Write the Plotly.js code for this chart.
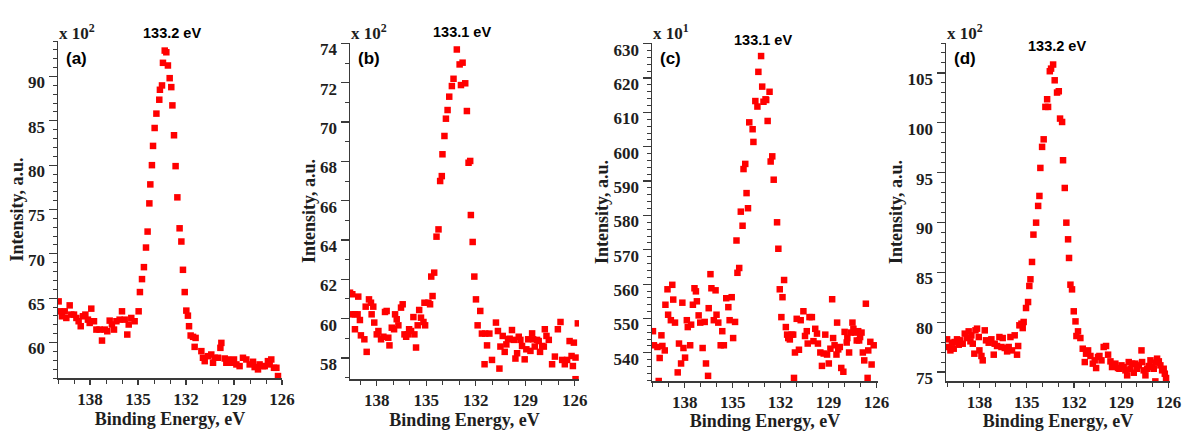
<!DOCTYPE html>
<html>
<head>
<meta charset="utf-8">
<script src="https://cdn.plot.ly/plotly-3.0.1.min.js"></script>
<style>html,body{margin:0;padding:0;background:#fff;}#chart{width:1182px;height:431px;}</style>
</head>
<body>
<div id="chart"></div>
<script>
// ---- Panel (a): peak 133.2 eV, intensity x 10^2 ----
const xA = [139.96,139.9,139.75,139.58,139.48,139.27,139.17,139.0,138.85,138.71,138.58,138.44,138.29,138.13,138.02,137.92,137.75,137.6,137.4,137.25,137.08,136.92,136.77,136.63,136.5,136.35,136.15,136.0,135.83,135.67,135.58,135.42,135.21,134.96,134.88,134.75,134.63,134.5,134.4,134.29,134.23,134.13,134.06,133.96,133.85,133.67,133.63,133.5,133.44,133.33,133.23,133.13,133.02,132.92,132.85,132.75,132.65,132.54,132.4,132.29,132.19,132.08,131.98,131.88,131.81,131.71,131.56,131.46,131.4,131.04,130.94,130.83,130.63,130.42,130.31,130.21,130.0,129.85,129.79,129.58,129.48,129.38,129.17,129.0,128.85,128.65,128.44,128.23,128.02,127.81,127.71,127.5,127.4,127.19,127.08,126.88,126.77,126.67,126.5,126.35,126.25];
const yA = [64.64,63.52,62.96,63.52,62.77,64.19,63.15,63.15,62.77,62.4,61.84,62.96,63.15,62.58,62.21,63.82,62.4,61.46,61.46,60.22,61.46,61.27,62.47,62.03,61.46,62.4,62.58,63.52,62.58,60.9,62.03,62.77,62.4,63.52,65.69,67.15,68.5,70.71,72.51,75.69,77.83,80.0,82.17,84.19,85.81,87.38,88.5,88.99,91.54,92.92,92.73,91.24,89.81,88.8,86.74,83.37,79.89,76.37,72.88,71.39,68.2,65.69,63.6,63.03,61.84,60.79,60.64,59.51,60.52,59.03,58.28,57.9,58.46,58.65,57.72,58.28,58.28,59.4,59.96,58.2,57.72,58.09,57.72,58.09,57.53,57.34,58.28,58.09,57.53,57.83,57.23,56.97,57.53,57.34,57.34,57.9,57.53,58.09,57.15,57.15,56.22];

// ---- Panel (b): peak 133.1 eV, intensity x 10^2 ----
const xB = [139.62,139.48,139.12,139.52,139.32,139.16,139.02,139.32,138.96,138.75,138.61,138.67,138.47,138.35,138.31,138.21,138.15,138.0,137.9,137.74,137.6,137.5,137.4,137.3,137.23,137.09,136.95,136.89,136.79,136.69,136.53,136.43,136.32,136.22,136.12,136.04,135.92,135.78,135.72,135.62,135.52,135.43,135.32,135.17,135.07,135.11,134.87,134.77,134.62,134.7,134.52,134.38,134.26,134.16,134.06,134.02,133.9,133.81,133.71,133.61,133.45,133.35,133.15,132.98,132.8,132.9,132.64,132.54,132.44,132.34,132.3,132.19,132.09,131.99,131.73,131.89,131.63,131.43,131.18,131.32,131.47,131.02,130.78,130.66,130.51,130.57,130.37,130.25,130.15,130.05,129.95,129.81,129.7,129.6,129.5,129.4,129.3,129.2,129.04,128.94,128.83,128.69,128.59,128.53,128.43,128.29,128.19,128.11,127.98,127.88,127.82,127.72,127.58,127.38,127.21,127.03,126.87,126.77,126.61,126.47,126.32,126.2,126.06,125.96,125.82,125.96,126.12];
const yB = [61.32,61.24,61.12,60.22,60.22,60.22,59.93,59.46,59.15,58.95,58.31,60.61,60.98,60.81,60.22,60.61,59.8,59.2,59.37,58.95,59.08,60.34,60.39,59.03,58.64,59.54,59.46,60.22,59.97,59.66,60.56,60.73,59.2,59.08,59.2,59.46,59.37,60.08,59.2,58.53,59.66,60.44,60.05,59.83,59.66,60.81,60.81,60.73,61.15,62.14,62.34,64.17,64.54,67.0,67.25,68.36,69.29,70.17,70.61,71.29,71.83,72.2,73.69,72.93,73.02,71.88,71.97,70.56,67.93,68.02,65.27,63.9,62.14,60.98,60.39,59.66,59.24,59.24,59.24,58.64,57.68,57.9,59.8,59.37,58.58,57.46,59.12,58.31,58.69,58.95,58.98,59.42,58.92,57.97,58.24,59.08,58.92,58.61,57.93,58.44,58.95,58.36,59.25,58.95,58.58,58.92,58.86,58.31,58.61,58.58,59.46,59.12,58.92,57.68,58.07,59.46,59.83,57.9,57.68,57.9,58.86,58.1,58.78,58.02,59.76,56.92,57.59];

// ---- Panel (c): peak 133.1 eV, intensity x 10^1 ----
const xC = [139.99,139.93,139.71,139.63,139.57,139.46,139.4,139.25,139.21,139.08,139.04,138.87,138.78,138.72,138.61,138.44,138.36,138.23,138.15,138.08,137.98,137.87,137.81,137.66,137.6,137.49,137.39,137.3,137.24,137.13,137.03,136.88,136.75,136.67,136.54,136.5,136.39,136.33,136.18,136.07,136.01,135.9,135.75,135.65,135.55,135.4,135.27,135.19,135.06,134.97,134.85,134.76,134.7,134.59,134.49,134.38,134.32,134.21,134.13,134.04,133.7,133.75,133.96,133.58,133.45,133.39,133.22,133.15,133.07,132.94,132.9,132.81,132.69,132.62,132.52,132.43,132.22,132.14,132.05,131.88,131.78,131.95,131.67,131.59,131.52,131.42,131.31,131.21,131.16,131.1,130.99,130.85,130.74,130.57,130.47,130.36,130.3,130.19,130.04,129.94,129.83,129.72,129.66,129.51,129.41,129.3,129.2,129.09,128.98,128.88,128.77,128.71,128.62,128.46,128.5,128.39,128.29,128.2,128.07,127.99,127.86,127.82,127.71,127.61,127.5,127.44,127.33,127.23,127.14,127.08,127.02,126.93,126.85,126.76,126.66,126.55,126.51,126.38,126.3,126.17];
const yC = [546.3,542.2,541.7,531.8,538.5,545.1,542.0,540.7,554.0,558.5,551.1,549.5,559.8,555.5,548.8,534.3,542.7,536.9,554.6,541.4,538.6,549.5,547.5,542.2,548.2,554.0,558.8,557.9,555.0,550.9,548.8,541.4,549.0,536.9,533.3,553.0,562.9,558.8,549.5,558.2,551.1,548.8,542.2,546.3,542.2,555.9,553.3,549.5,556.2,544.3,549.0,572.7,563.3,564.7,581.1,577.0,593.5,595.0,586.5,582.1,601.4,605.1,607.1,613.3,611.7,621.8,626.4,617.5,613.1,613.8,613.6,607.5,616.0,595.7,597.2,590.4,578.0,570.3,558.5,556.2,561.2,550.4,547.5,545.3,544.3,543.9,545.3,545.3,532.7,540.1,549.9,540.9,549.5,552.1,544.9,546.3,542.7,550.4,550.4,543.4,547.0,545.6,542.7,540.1,536.2,539.8,545.3,539.5,536.9,541.2,555.6,544.3,542.2,548.8,539.5,541.0,541.7,535.6,534.5,546.1,543.0,544.3,540.1,545.9,548.8,547.0,545.9,543.6,546.3,543.6,544.6,545.9,540.1,537.8,554.3,532.7,540.7,543.2,536.6,542.2];

// ---- Panel (d): peak 133.2 eV, intensity x 10^2 ----
const xD = [140.05,139.95,139.84,139.74,139.63,139.57,139.42,139.31,139.21,139.06,138.93,138.78,138.68,138.57,138.51,138.42,138.32,138.25,138.15,138.04,138.0,137.87,137.79,137.66,137.58,137.41,137.24,137.09,137.03,136.88,136.73,136.6,136.52,136.39,136.24,136.14,136.03,135.93,135.76,135.61,135.54,135.46,135.33,135.25,135.19,135.04,134.91,134.83,134.76,134.66,134.57,134.4,134.27,134.19,134.13,134.02,133.92,133.81,133.7,133.64,133.53,133.45,133.32,133.22,133.07,132.96,132.88,132.75,132.69,132.58,132.48,132.37,132.31,132.22,132.12,132.01,131.9,131.84,131.74,131.59,131.44,131.31,131.23,131.1,130.95,130.8,130.68,130.59,130.47,130.38,130.25,130.11,129.96,129.83,129.68,129.58,129.47,129.37,129.2,129.11,128.98,128.84,128.73,128.62,128.52,128.41,128.31,128.2,128.1,127.99,127.88,127.71,127.67,127.57,127.46,127.35,127.25,127.14,127.04,126.93,126.83,126.72,126.61,126.51,126.4,126.3,126.23,126.15,126.83];
const yD = [78.28,77.51,77.17,77.94,77.34,78.01,78.28,77.74,78.18,77.84,78.85,78.41,79.08,78.08,78.68,77.84,76.84,79.18,79.35,78.51,77.17,76.61,76.17,79.18,78.18,77.94,78.28,76.74,77.84,77.61,78.51,77.51,78.41,77.41,77.07,77.51,78.51,77.17,78.68,76.74,77.61,79.68,79.85,79.41,80.02,81.42,82.02,83.63,84.3,86.04,88.78,89.98,91.66,92.66,95.47,97.58,98.34,101.59,102.36,101.59,105.17,105.43,105.84,104.26,103.03,103.16,100.42,100.08,96.24,93.46,89.98,88.31,86.44,83.76,83.29,81.09,80.08,78.61,79.08,78.41,77.34,76.0,76.84,77.17,76.61,75.84,76.17,75.4,76.51,76.61,76.17,77.51,77.61,76.74,76.07,75.5,75.74,75.84,75.4,75.33,75.67,75.5,75.17,74.67,76.0,75.33,75.84,74.93,75.84,75.33,75.67,77.17,76.0,75.17,74.67,75.33,75.6,76.17,75.5,75.33,75.94,76.34,76.07,75.67,75.17,75.33,74.83,74.4,74.06];

const panelLabels = ['(a)', '(b)', '(c)', '(d)'];
const peakLabels = ['133.2 eV', '133.1 eV', '133.1 eV', '133.2 eV'];
const scaleLabels = ['x 10<sup>2</sup>', 'x 10<sup>2</sup>', 'x 10<sup>1</sup>', 'x 10<sup>2</sup>'];
const xTickVals = [138, 135, 132, 129, 126];
const xTitle = 'Binding Energy, eV';
const yTitle = 'Intensity, a.u.';

const W = 1182, H = 431;
// plot boxes in pixels: [left, right, top, bottom]
const boxes = [[58, 282, 41, 378], [350, 579, 43, 379], [652, 878, 43, 381], [946, 1170, 43, 381]];
const xRanges = [[140, 126], [139.62, 125.75], [140.05, 125.9], [140.12, 125.9]];
const yRanges = [[56, 94], [56.93, 74.02], [531.8, 630.2], [74.1, 108]];
const yDticks = [5, 2, 10, 5];
const yMinor = [1, 1, 2, 1];

const serif = 'Liberation Serif, Times New Roman, serif';
const sans = 'Liberation Sans, Arial, sans-serif';
const axisCol = '#3a3a3a';
const textCol = '#1e1e1e';

const xs = [xA, xB, xC, xD];
const ys = [yA, yB, yC, yD];
const data = [];
const layout = {
  width: W, height: H,
  margin: {l: 0, r: 0, t: 0, b: 0},
  paper_bgcolor: '#ffffff', plot_bgcolor: '#ffffff',
  showlegend: false,
  annotations: []
};

for (let i = 0; i < 4; i++) {
  const s = i === 0 ? '' : String(i + 1);
  const b = boxes[i];
  data.push({
    type: 'scatter', mode: 'markers',
    x: xs[i], y: ys[i],
    xaxis: 'x' + s, yaxis: 'y' + s,
    marker: {symbol: 'square', size: 6.5, color: '#ff0000'},
    hoverinfo: 'skip'
  });
  layout['xaxis' + s] = {
    domain: [b[0] / W, b[1] / W],
    anchor: 'y' + s,
    range: xRanges[i],
    tickmode: 'array', tickvals: xTickVals,
    ticks: 'outside', ticklen: 5, tickwidth: 1.2, tickcolor: axisCol,
    minor: {dtick: 1, tick0: 126, ticks: 'outside', ticklen: 4, tickwidth: 1, tickcolor: axisCol},
    showline: true, linecolor: axisCol, linewidth: 1.5,
    showgrid: false, zeroline: false,
    tickfont: {family: serif, size: 17, color: textCol, weight: 'bold'},
    title: {text: '<b>' + xTitle + '</b>', font: {family: serif, size: 18, color: textCol}, standoff: 2}
  };
  layout['yaxis' + s] = {
    domain: [1 - b[3] / H, 1 - b[2] / H],
    anchor: 'x' + s,
    range: yRanges[i],
    tick0: 0, dtick: yDticks[i],
    ticks: 'outside', ticklen: 8, tickwidth: 1.2, tickcolor: axisCol,
    minor: {dtick: yMinor[i], ticks: 'outside', ticklen: 4, tickwidth: 1, tickcolor: axisCol},
    showline: true, linecolor: axisCol, linewidth: 1.5,
    showgrid: false, zeroline: false,
    ticklabelstandoff: 0, ticklabelshift: 6,
    tickfont: {family: serif, size: 17, color: textCol, weight: 'bold'},
    title: {text: '<b>' + yTitle + '</b>', font: {family: serif, size: 18, color: textCol}, standoff: 0}
  };
  layout.annotations.push({
    xref: 'paper', yref: 'paper', x: (b[0] - 1) / W, y: 1 - 32 / H,
    xanchor: 'left', yanchor: 'middle', showarrow: false,
    text: '<b>' + scaleLabels[i] + '</b>',
    font: {family: serif, size: 17, color: textCol}
  });
  layout.annotations.push({
    xref: 'paper', yref: 'paper', x: (b[0] + 6) / W, y: 1 - 58 / H,
    xanchor: 'left', yanchor: 'middle', showarrow: false,
    text: '<b>' + panelLabels[i] + '</b>',
    font: {family: sans, size: 17, color: '#000'}
  });
}
const peakPos = [[172, 33], [462, 32], [763, 40], [1057, 46]];
for (let i = 0; i < 4; i++) {
  layout.annotations.push({
    xref: 'paper', yref: 'paper', x: peakPos[i][0] / W, y: 1 - peakPos[i][1] / H,
    xanchor: 'center', yanchor: 'middle', showarrow: false,
    text: '<b>' + peakLabels[i] + '</b>',
    font: {family: sans, size: 14.5, color: '#000'}
  });
}

Plotly.newPlot('chart', data, layout, {displayModeBar: false, staticPlot: true});
</script>
</body>
</html>
